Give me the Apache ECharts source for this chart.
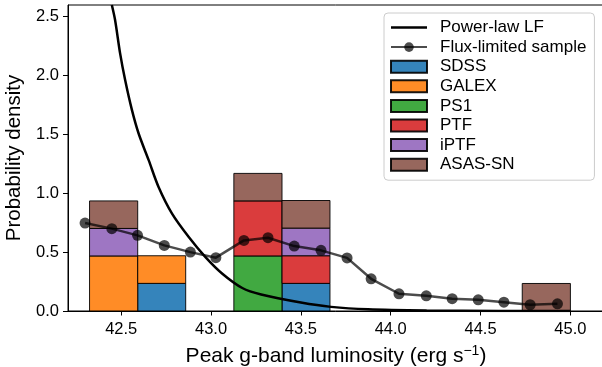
<!DOCTYPE html>
<html>
<head>
<meta charset="utf-8">
<script src="https://cdn.jsdelivr.net/npm/echarts@6/dist/echarts.min.js"></script>
<style>
  html, body { margin: 0; padding: 0; background: #fff; }
  #chart { width: 602px; height: 367px; }
</style>
</head>
<body>
<div id="chart"></div>
<script>
// histogram bin edges (peak g-band log luminosity)
const binEdges = [42.324, 42.592, 42.859, 43.127, 43.395, 43.662, 43.930, 44.197, 44.465, 44.732, 45.0];

// counts per bin for each survey (stacked in this order)
const sdss   = [0, 1, 0, 0, 1, 0, 0, 0, 0, 0];
const galex  = [2, 1, 0, 0, 0, 0, 0, 0, 0, 0];
const ps1    = [0, 0, 0, 2, 0, 0, 0, 0, 0, 0];
const ptf    = [0, 0, 0, 2, 1, 0, 0, 0, 0, 0];
const iptf   = [1, 0, 0, 0, 1, 0, 0, 0, 0, 0];
const asassn = [1, 0, 0, 1, 1, 0, 0, 0, 0, 1];

// power-law LF curve
const plX = [42.448, 42.466, 42.494, 42.522, 42.560, 42.597, 42.653, 42.708, 42.783, 42.876, 42.969, 43.063, 43.174, 43.279, 43.5, 43.668, 43.873, 44.2, 44.6, 45.0];
const plY = [2.593, 2.466, 2.183, 1.957, 1.702, 1.504, 1.278, 1.051, 0.825, 0.627, 0.457, 0.316, 0.195, 0.140, 0.072, 0.035, 0.014, 0.004, 0.001, 0.0];

// flux-limited sample
const fluxX = [42.299, 42.448, 42.591, 42.740, 42.885, 43.027, 43.183, 43.317, 43.463, 43.612, 43.757, 43.891, 44.046, 44.198, 44.342, 44.487, 44.630, 44.776, 44.928];
const fluxY = [0.745, 0.698, 0.641, 0.556, 0.499, 0.452, 0.598, 0.621, 0.550, 0.514, 0.450, 0.273, 0.146, 0.129, 0.104, 0.095, 0.075, 0.053, 0.061];

const xTicks = [42.5, 43.0, 43.5, 44.0, 44.5, 45.0];
const yTicks = [0, 0.5, 1.0, 1.5, 2.0, 2.5];

const surveys = [
  { name: 'SDSS', counts: sdss, color: '#1f77b4' },
  { name: 'GALEX', counts: galex, color: '#ff7f0e' },
  { name: 'PS1', counts: ps1, color: '#2ca02c' },
  { name: 'PTF', counts: ptf, color: '#d62728' },
  { name: 'iPTF', counts: iptf, color: '#9467bd' },
  { name: 'ASAS-SN', counts: asassn, color: '#8c564b' }
];

// normalise to a probability density
let total = 0;
surveys.forEach(s => s.counts.forEach(c => { total += c; }));

const base = binEdges.slice(0, -1).map(() => 0);
const barSeries = surveys.map(s => {
  const data = [];
  s.counts.forEach((c, i) => {
    const w = binEdges[i + 1] - binEdges[i];
    const h = c / (total * w);
    if (c > 0) data.push([binEdges[i], binEdges[i + 1], base[i], base[i] + h]);
    base[i] += h;
  });
  return {
    name: s.name,
    type: 'custom',
    z: 1,
    clip: true,
    itemStyle: { color: s.color, borderColor: '#000', borderWidth: 1, opacity: 0.9 },
    encode: { x: [0, 1], y: [2, 3] },
    renderItem: function (params, api) {
      const p0 = api.coord([api.value(0), api.value(3)]);
      const p1 = api.coord([api.value(1), api.value(2)]);
      return {
        type: 'rect',
        shape: { x: p0[0], y: p0[1], width: p1[0] - p0[0], height: p1[1] - p0[1] },
        style: api.style()
      };
    },
    data: data
  };
});

const chart = echarts.init(document.getElementById('chart'), null, { renderer: 'canvas' });

const FONT = '"Liberation Sans", Arial, Helvetica, sans-serif';
// plain line legend icon (tiny dots at the corners keep the bounding box)
const LINE_ICON = 'path://M0,0L0.01,0Z M0,4.75H36V7.25H0Z M36,12L35.99,12Z';

chart.setOption({
  animation: false,
  textStyle: { fontFamily: FONT },
  grid: {
    left: 68, top: 5, right: -2, bottom: 56,
    outerBoundsMode: 'none', containLabel: false,
    show: true, borderColor: '#000', borderWidth: 1
  },
  legend: {
    orient: 'vertical',
    left: 384,
    top: 13,
    padding: [6, 8, 7, 6],
    itemWidth: 36,
    itemHeight: 12,
    itemGap: 2.6,
    backgroundColor: '#fff',
    borderColor: '#cccccc',
    borderWidth: 1,
    borderRadius: 4,
    textStyle: { fontSize: 17, lineHeight: 17, color: '#000', fontFamily: FONT, padding: [0, 0, 0, 8] },
    data: [
      { name: 'Power-law LF', icon: LINE_ICON, itemStyle: { color: '#000' } },
      { name: 'Flux-limited sample' }
    ].concat(surveys.map(s => ({ name: s.name, icon: 'rect' })))
  },
  xAxis: {
    type: 'value',
    min: 42.204,
    max: 45.187,
    name: 'Peak g-band luminosity (erg s{sup|\u22121})',
    nameLocation: 'middle',
    nameGap: 33,
    nameTextStyle: {
      fontSize: 21, color: '#000', fontFamily: FONT, lineHeight: 25,
      rich: { sup: { fontSize: 14, color: '#000', fontFamily: FONT, verticalAlign: 'top', lineHeight: 14 } }
    },
    axisLine: { show: true, lineStyle: { color: '#000', width: 1 } },
    axisTick: { show: true, length: 4.5, lineStyle: { color: '#000' }, customValues: xTicks },
    axisLabel: { fontSize: 16.5, color: '#000', margin: 10, customValues: xTicks, formatter: v => v.toFixed(1) },
    splitLine: { show: false }
  },
  yAxis: {
    type: 'value',
    min: 0,
    max: 2.593,
    name: 'Probability density',
    nameLocation: 'middle',
    nameGap: 37,
    nameTextStyle: { fontSize: 20.5, color: '#000', fontFamily: FONT },
    axisLine: { show: true, lineStyle: { color: '#000', width: 1 } },
    axisTick: { show: true, length: 5, lineStyle: { color: '#000' }, customValues: yTicks },
    axisLabel: { fontSize: 16.5, color: '#000', margin: 9, customValues: yTicks, formatter: v => v.toFixed(1) },
    splitLine: { show: false }
  },
  series: barSeries.concat([
    {
      name: 'Power-law LF',
      type: 'line',
      z: 3,
      smooth: 0.3,
      symbol: 'none',
      clip: true,
      lineStyle: { color: '#000', width: 2.5 },
      itemStyle: { color: '#000' },
      data: plX.map((x, i) => [x, plY[i]])
    },
    {
      name: 'Flux-limited sample',
      type: 'line',
      z: 4,
      symbol: 'circle',
      symbolSize: 11,
      lineStyle: { color: '#000', width: 2.5, opacity: 0.7 },
      itemStyle: { color: '#000', opacity: 0.7 },
      data: fluxX.map((x, i) => [x, fluxY[i]])
    }
  ])
});
</script>
</body>
</html>
